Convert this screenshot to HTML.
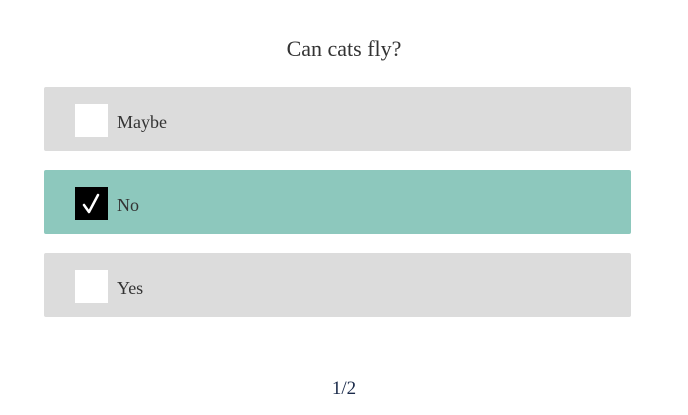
<!DOCTYPE html>
<html><head><meta charset="utf-8"><style>
html,body{margin:0;padding:0;background:#fff;width:688px;height:415px;overflow:hidden;font-family:"Liberation Serif",serif;color:#333}
.title{position:absolute;left:0;width:688px;top:36px;text-align:center;font-size:22px;color:#333}
.opt{position:absolute;left:44px;width:587px;height:64px;background:#dcdcdc;border-radius:2px;cursor:pointer}
.opt.sel{background:#8dc8bd}
.box{position:absolute;left:31px;top:17px;width:33px;height:33px;background:#fff}
.sel .box{background:#000}
.lbl{position:absolute;left:73px;top:2px;line-height:66px;font-size:18px;color:#333}
.pg{position:absolute;left:0;width:688px;top:378px;text-align:center;font-size:19px;color:#1a2a4a}
</style></head><body>
<div class="title">Can cats fly?</div>
<div class="opt" style="top:87px"><div class="box"></div><div class="lbl">Maybe</div></div>
<div class="opt sel" style="top:170px"><div class="box"><svg width="33" height="33"><path d="M9 18 L14 25 L23 8" stroke="#fff" stroke-width="2.5" fill="none" stroke-linecap="round" stroke-linejoin="round"/></svg></div><div class="lbl">No</div></div>
<div class="opt" style="top:253px"><div class="box"></div><div class="lbl">Yes</div></div>
<div class="pg">1/2</div>
</body></html>
